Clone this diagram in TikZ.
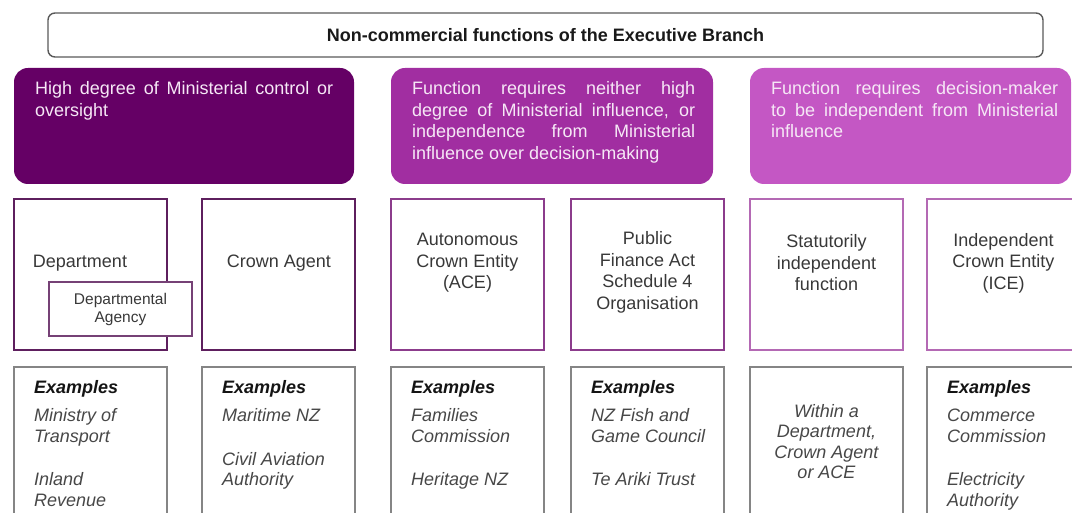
\documentclass[tikz,border=0pt]{standalone}
\usepackage{fontspec}
\setmainfont{Liberation Sans}

\definecolor{plumA}{HTML}{650065}
\definecolor{plumB}{HTML}{A12EA1}
\definecolor{plumC}{HTML}{C457C4}
\definecolor{lineA}{HTML}{5E1F5E}
\definecolor{lineB}{HTML}{8C3C8C}
\definecolor{lineC}{HTML}{B469B4}
\definecolor{pinkwhite}{HTML}{F6E8F6}
\definecolor{exgrey}{HTML}{858585}

\tolerance=9999
\hbadness=10000

\tikzset{
  head/.style={rounded corners=14pt},
  org/.style={line width=2.6pt},
  ex/.style={draw=exgrey, line width=2.4pt},
  headtxt/.style={anchor=north west, inner sep=0pt, text=pinkwhite, align=justify,
    text width=#1, font=\fontsize{18}{21.5}\selectfont},
  orgtxt/.style={inner sep=0pt, align=center, text=black!78, font=\fontsize{18}{21.5}\selectfont},
  extxt/.style={anchor=north west, inner sep=0pt, align=left, text=black!72,
    font=\fontsize{18}{20.5}\selectfont\itshape},
}
\newcommand{\extitle}{\textcolor{black!92}{\textbf{Examples}}}

\begin{document}
\begin{tikzpicture}[x=1pt,y=-1pt]
   \path[use as bounding box, clip] (0,0) rectangle (1072,513);

   \draw[black!65, line width=1.4pt, rounded corners=7pt] (48,13) rectangle (1043,57);
   \node[font=\fontsize{18}{20}\selectfont\bfseries, text=black!90] (T) at (545.5,35)
      {Non-commercial functions of the Executive Branch};

   \fill[head, plumA] (14,68) rectangle (354,184);
   \fill[head, plumB] (391,68) rectangle (713,184);
   \fill[head, plumC] (750,68) rectangle (1071,184);

   \node[headtxt=298pt] (H1) at (35,81.5) {High degree of Ministerial control or\linebreak oversight};
   \node[headtxt=283pt] (H2) at (412,81.5) {Function requires neither high\linebreak
      degree of Ministerial influence, or\linebreak independence from Ministerial\linebreak
      influence over decision-making};
   \node[headtxt=287pt] (H3) at (771,81.5) {Function requires decision-maker\linebreak
      to be independent from Ministerial\linebreak influence};

   \foreach \x/\col in {14/lineA,202/lineA,391/lineB,571/lineB,750/lineC,927/lineC}
   \draw[org, draw=\col] (\x,199) rectangle ++(153,151);

   \draw[fill=white, draw=lineA!85, line width=1.3pt] (49,282) rectangle (192,336);

   \node[orgtxt] (D) at (80,263) {Department};
   \node[orgtxt, font=\fontsize{15.5}{18.5}\selectfont] (DA) at (120.5,309.5) {Departmental\\Agency};
   \node[orgtxt] (CA) at (279,263) {Crown Agent};
   \node[orgtxt] (ACE) at (467.5,263) {Autonomous\\Crown Entity\\(ACE)};
   \node[orgtxt] (PFA) at (647.5,272.5) {Public\\Finance Act\\Schedule 4\\Organisation};
   \node[orgtxt] (SIF) at (826.5,263) {Statutorily\\independent\\function};
   \node[orgtxt] (ICE) at (1003.5,263) {Independent\\Crown Entity\\(ICE)};

   \foreach \x in {14,202,391,571,750,927}
   \draw[ex] (\x,367) rectangle ++(153,170);

   \node[extxt] (E1) at (34,380) {\extitle\\[8pt]Ministry of\\Transport\\[23pt]Inland\\Revenue};
   \node[extxt] (E2) at (222,380) {\extitle\\[8pt]Maritime NZ\\[23pt]Civil Aviation\\Authority};
   \node[extxt] (E3) at (411,380) {\extitle\\[8pt]Families\\Commission\\[23pt]Heritage NZ};
   \node[extxt] (E4) at (591,380) {\extitle\\[8pt]NZ Fish and\\Game Council\\[23pt]Te Ariki Trust};
   \node[extxt, anchor=center, align=center] (E5) at (826.5,441.5) {Within a\\Department,\\Crown Agent\\or ACE};
   \node[extxt] (E6) at (947,380) {\extitle\\[8pt]Commerce\\Commission\\[23pt]Electricity\\Authority};

\end{tikzpicture}
\end{document}
